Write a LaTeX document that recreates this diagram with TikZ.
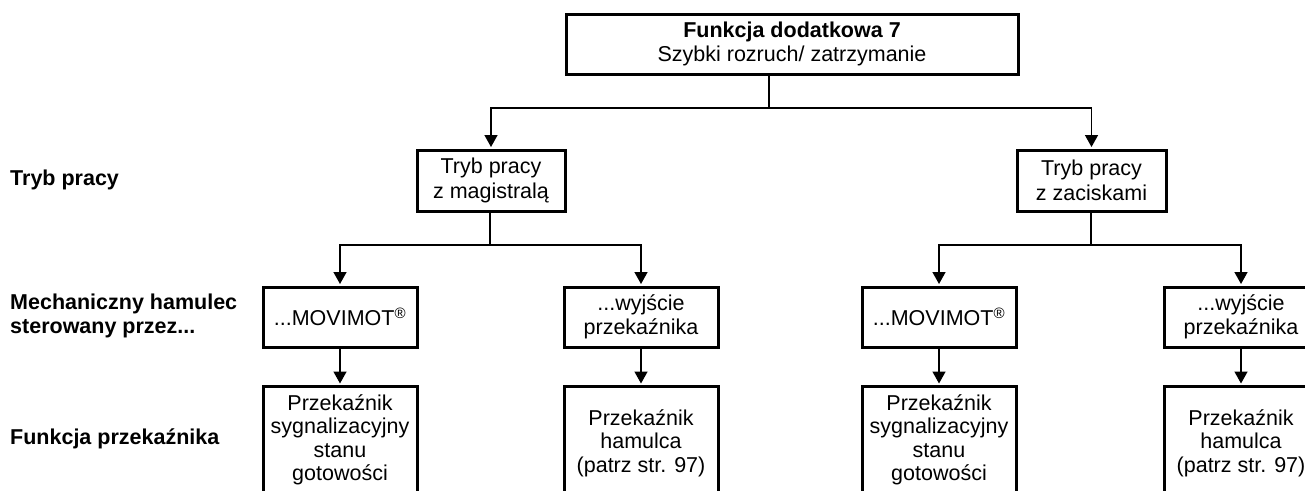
\documentclass[tikz,border=0pt]{standalone}
\usepackage{fontspec}
\setmainfont{Liberation Sans}
\usetikzlibrary{arrows.meta}
\begin{document}
\begin{tikzpicture}[x=1pt, y=-1pt,
  every node/.style={font=\fontsize{21.5pt}{24.5pt}\selectfont, inner sep=0pt},
  box/.style={draw, line width=3pt, minimum width=154pt, minimum height=60pt, align=center},
  txt/.style={align=center, font=\fontsize{21.5pt}{23.5pt}\selectfont},
  lbl/.style={anchor=west, align=left, font=\fontsize{21.5pt}{24.5pt}\selectfont\bfseries},
  conn/.style={line width=1.5pt},
  arr/.style={conn, -{Triangle[length=12pt, width=13pt]}, shorten >=1.5pt}]
  \path[use as bounding box, clip] (0,0) rectangle (1305,490);

  % row labels
  \node[lbl] (l1) at (10,180) {Tryb pracy};
  \node[lbl] (l2) at (10,316) {Mechaniczny hamulec\\sterowany przez...};
  \node[lbl] (l3) at (10,439) {Funkcja przekaźnika};

  % level 1
  \node[box, minimum width=452pt, minimum height=60pt] (top) at (792,44)
    {\textbf{Funkcja dodatkowa 7}\\Szybki rozruch/ zatrzymanie};

  % level 2
  \node[box, minimum width=148pt, minimum height=61pt] (tL) at (491,180.5) {Tryb pracy\\z magistralą};
  \node[box, minimum width=149pt, minimum height=61pt] (tR) at (1091.5,180.5) {Tryb pracy\\z zaciskami};

  % level 3
  \node[box] (mL) at (340,317) {...MOVIMOT\textsuperscript{®}};
  \node[box] (wL) at (641,317) {...wyjście\\przekaźnika};
  \node[box] (mR) at (939,317) {...MOVIMOT\textsuperscript{®}};
  \node[box] (wR) at (1241,317) {...wyjście\\przekaźnika};

  % level 4
  \node[box, minimum height=120pt, anchor=north] (fL1) at (340,385) {};
  \node[box, minimum height=120pt, anchor=north] (fL2) at (641,385) {};
  \node[box, minimum height=120pt, anchor=north] (fR1) at (939,385) {};
  \node[box, minimum height=120pt, anchor=north] (fR2) at (1241,385) {};
  \node[txt] (fL1t) at (340,440) {Przekaźnik\\sygnalizacyjny\\stanu\\gotowości};
  \node[txt] (fL2t) at (641,443) {Przekaźnik\\hamulca\\(patrz str. 97)};
  \node[txt] (fR1t) at (939,440) {Przekaźnik\\sygnalizacyjny\\stanu\\gotowości};
  \node[txt] (fR2t) at (1241,443) {Przekaźnik\\hamulca\\(patrz str. 97)};

  % junctions
  \coordinate (j0) at (769,108);
  \coordinate (j1) at (490,245);
  \coordinate (j2) at (1091,245);

  % connectors
  \draw[conn] (top.south -| j0) -- (j0);
  \draw[arr] (j0) -| (tL.north);
  \draw[arr] (j0) -| (tR.north);

  \draw[conn] (tL.south -| j1) -- (j1);
  \draw[arr] (j1) -| (mL.north);
  \draw[arr] (j1) -| (wL.north);

  \draw[conn] (tR.south -| j2) -- (j2);
  \draw[arr] (j2) -| (mR.north);
  \draw[arr] (j2) -| (wR.north);

  \draw[arr] (mL.south) -- (fL1.north);
  \draw[arr] (wL.south) -- (fL2.north);
  \draw[arr] (mR.south) -- (fR1.north);
  \draw[arr] (wR.south) -- (fR2.north);
\end{tikzpicture}
\end{document}
